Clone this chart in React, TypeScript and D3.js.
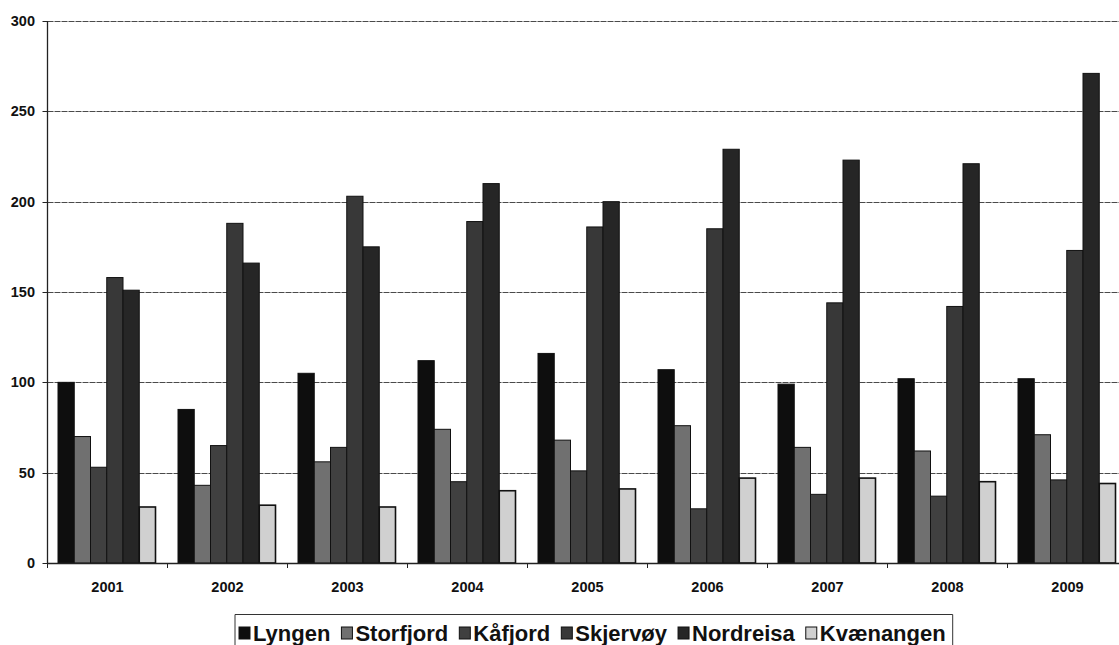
import React, { useEffect, useRef } from "react";
import * as d3 from "d3";

const years = ["2001", "2002", "2003", "2004", "2005", "2006", "2007", "2008", "2009"];
const seriesNames = ["Lyngen", "Storfjord", "Kåfjord", "Skjervøy", "Nordreisa", "Kvænangen"];
const lyngen = [100, 85, 105, 112, 116, 107, 99, 102, 102];
const storfjord = [70, 43, 56, 74, 68, 76, 64, 62, 71];
const kafjord = [53, 65, 64, 45, 51, 30, 38, 37, 46];
const skjervoy = [158, 188, 203, 189, 186, 185, 144, 142, 173];
const nordreisa = [151, 166, 175, 210, 200, 229, 223, 221, 271];
const kvaenangen = [31, 32, 31, 40, 41, 47, 47, 45, 44];
const yTicks = [0, 50, 100, 150, 200, 250, 300];

const seriesValues = [lyngen, storfjord, kafjord, skjervoy, nordreisa, kvaenangen];
const fills = ["#0e0e0e", "#707070", "#404040", "#383838", "#262626", "#d0d0d0"];

export default function App() {
  const ref = useRef<SVGSVGElement>(null);

  useEffect(() => {
    const svg = d3.select(ref.current);
    svg.selectAll("*").remove();
    const font = "'Liberation Sans', Arial, sans-serif";

    const left = 47.5, right = 1127.5, top = 21, bottom = 563;
    const y = d3.scaleLinear().domain([0, 300]).range([bottom, top]);
    const x0 = d3.scaleBand().domain(years).range([left, right]).padding(0);
    const x1 = d3.scaleBand().domain(seriesNames).range([10.5, 108]).padding(0);

    // gridlines
    svg.append("g").selectAll("line").data(yTicks.filter(t => t > 0)).join("line")
      .attr("x1", left).attr("x2", right)
      .attr("y1", d => Math.round(y(d)) + 0.5).attr("y2", d => Math.round(y(d)) + 0.5)
      .attr("stroke", "#4a4a4a").attr("stroke-width", 1).attr("stroke-dasharray", "6,1");

    // bars
    const groups = svg.append("g").selectAll("g").data(years).join("g")
      .attr("transform", d => `translate(${x0(d)},0)`);
    groups.selectAll("rect")
      .data((_, i) => seriesNames.map((s, k) => ({ s, k, v: seriesValues[k][i] })))
      .join("rect")
      .attr("x", d => x1(d.s)!)
      .attr("width", x1.bandwidth())
      .attr("y", d => y(d.v))
      .attr("height", d => bottom - y(d.v))
      .attr("fill", d => fills[d.k])
      .attr("stroke", "#111")
      .attr("stroke-width", d => (d.k === 5 ? 1.6 : 1));

    // y axis
    svg.append("line").attr("x1", left).attr("x2", left).attr("y1", top).attr("y2", bottom)
      .attr("stroke", "#222").attr("stroke-width", 1.3);
    svg.append("g").selectAll("line").data(yTicks).join("line")
      .attr("x1", left - 5).attr("x2", left)
      .attr("y1", d => Math.round(y(d)) + 0.5).attr("y2", d => Math.round(y(d)) + 0.5)
      .attr("stroke", "#222");
    svg.append("g").selectAll("text").data(yTicks).join("text")
      .attr("x", 35).attr("y", d => y(d) + 5)
      .attr("text-anchor", "end")
      .attr("font-family", font).attr("font-weight", "bold").attr("font-size", 14.5)
      .attr("fill", "#111")
      .text(d => String(d));

    // x axis
    svg.append("line").attr("x1", left).attr("x2", right).attr("y1", bottom + 0.5).attr("y2", bottom + 0.5)
      .attr("stroke", "#222").attr("stroke-width", 1.3);
    svg.append("g").selectAll("line").data(years.map(d => x0(d)!).concat([right])).join("line")
      .attr("x1", d => d).attr("x2", d => d)
      .attr("y1", bottom).attr("y2", bottom + 5)
      .attr("stroke", "#222");
    svg.append("g").selectAll("text").data(years).join("text")
      .attr("x", d => x0(d)! + x0.bandwidth() / 2)
      .attr("y", 592)
      .attr("text-anchor", "middle")
      .attr("font-family", font).attr("font-weight", "bold").attr("font-size", 14.5)
      .attr("fill", "#111")
      .text(d => d);

    // legend
    const lg = svg.append("g");
    let cx = 239;
    const ly = 641;
    seriesNames.forEach((name, k) => {
      lg.append("rect").attr("x", cx).attr("y", ly - 14).attr("width", 11).attr("height", 12)
        .attr("fill", fills[k]).attr("stroke", "#111").attr("stroke-width", 1);
      const t = lg.append("text").attr("x", cx + 14).attr("y", ly)
        .attr("font-family", font).attr("font-weight", "bold").attr("font-size", 22)
        .attr("fill", "#111").text(name);
      const w = (t.node() as SVGTextElement).getComputedTextLength();
      cx = cx + 14 + w + 11;
    });
    const boxRight = cx - 4;
    lg.append("path")
      .attr("d", `M235,660 V614.5 H${boxRight} V660`)
      .attr("fill", "none").attr("stroke", "#333").attr("stroke-width", 1);
  }, []);

  return (
    <svg ref={ref} width={1119} height={645}
      style={{ position: "absolute", left: 0, top: 0, background: "#fff" }} />
  );
}
